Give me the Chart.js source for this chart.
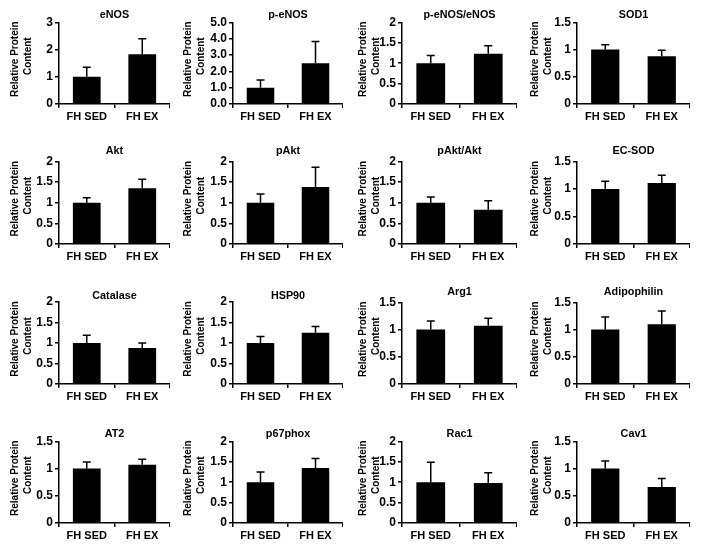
<!DOCTYPE html>
<html>
<head>
<meta charset="utf-8">
<script src="https://cdn.jsdelivr.net/npm/chart.js@4.4.0/dist/chart.umd.min.js"></script>
<style>
html, body { margin: 0; padding: 0; background: #fff; }
#wrap { position: relative; width: 701px; height: 550px; overflow: hidden; }
#wrap canvas { position: absolute; }
</style>
</head>
<body>
<div id="wrap"></div>
<script>
// data (SED mean is normalised to 1)
var categories = ['FH SED', 'FH EX'];
var panelTitles = ['eNOS', 'p-eNOS', 'p-eNOS/eNOS', 'SOD1',
                   'Akt', 'pAkt', 'pAkt/Akt', 'EC-SOD',
                   'Catalase', 'HSP90', 'Arg1', 'Adipophilin',
                   'AT2', 'p67phox', 'Rac1', 'Cav1'];
var sedValues = [1.0, 1.0, 1.0, 1.0, 1.0, 1.0, 1.0, 1.0, 1.0, 1.0, 1.0, 1.0, 1.0, 1.0, 1.0, 1.0];
var exValues  = [1.83, 2.5, 1.23, 0.88, 1.35, 1.38, 0.83, 1.11, 0.88, 1.25, 1.07, 1.1, 1.07, 1.35, 0.98, 0.66];
var sedErrors = [0.35, 0.47, 0.19, 0.09, 0.12, 0.21, 0.14, 0.14, 0.19, 0.16, 0.16, 0.23, 0.12, 0.25, 0.49, 0.14];
var exErrors  = [0.57, 1.33, 0.2, 0.11, 0.22, 0.48, 0.22, 0.14, 0.12, 0.15, 0.14, 0.24, 0.1, 0.23, 0.25, 0.16];
var yMax      = [3, 5, 2, 1.5, 2, 2, 2, 1.5, 2, 2, 1.5, 1.5, 1.5, 2, 2, 1.5];
var yStep     = [1, 1, 0.5, 0.5, 0.5, 0.5, 0.5, 0.5, 0.5, 0.5, 0.5, 0.5, 0.5, 0.5, 0.5, 0.5];
var yDecimals = [0, 1, 0, 0, 0, 0, 0, 0, 0, 0, 0, 0, 0, 0, 0, 0];
var yLabel = ['Relative Protein', 'Content'];

// grid layout (pixels)
var colAxisX = [59, 233, 402, 577];
var colRight = [170, 343, 517, 690];
var colTitleDist = [44, 45, 39, 42];
var rowTop = [22, 161, 302, 441];
var rowBottom = [104, 244, 384, 523];
var titleGap = [7, 7, 7, 7, 10, 10, 10, 10, 5.5, 5.5, 10, 10, 7, 7, 7, 7];

var AXIS_W = 56, X_H = 30, TITLE_PAD = 3, TITLE_SIZE = 10.8;
var Y_TITLE_FONT = 'bold 10px "Liberation Sans", Arial, sans-serif';
var Y_TITLE_LINE = 13.5, Y_TITLE_SHIFT = [-4, -7];

Chart.defaults.font.family = '"Liberation Sans", Arial, sans-serif';
Chart.defaults.color = '#000';

// upward error bar with a cap, like the Excel originals
var errorBars = {
    id: 'errorBars',
    afterDatasetsDraw: function (chart) {
        var ctx = chart.ctx;
        var yScale = chart.scales.y;
        var ds = chart.data.datasets[0];
        var meta = chart.getDatasetMeta(0);
        ctx.save();
        ctx.strokeStyle = '#000';
        ctx.lineWidth = 1.5;
        meta.data.forEach(function (bar, i) {
            var top = yScale.getPixelForValue(ds.data[i] + ds.errors[i]);
            ctx.beginPath();
            ctx.moveTo(bar.x, bar.y);
            ctx.lineTo(bar.x, top);
            ctx.moveTo(bar.x - 4, top);
            ctx.lineTo(bar.x + 4, top);
            ctx.stroke();
        });
        ctx.restore();
    }
};

// two-line rotated y title, sitting a little above the plot centre
var yTitle = {
    id: 'yTitle',
    afterDraw: function (chart, args, opts) {
        var ctx = chart.ctx;
        var area = chart.chartArea;
        var midY = (area.top + area.bottom) / 2;
        ctx.save();
        ctx.font = Y_TITLE_FONT;
        ctx.fillStyle = '#000';
        ctx.textAlign = 'center';
        ctx.textBaseline = 'middle';
        yLabel.forEach(function (line, k) {
            ctx.save();
            ctx.translate(area.left - opts.dist + k * Y_TITLE_LINE, midY + Y_TITLE_SHIFT[k]);
            ctx.rotate(-Math.PI / 2);
            ctx.fillText(line, 0, 0);
            ctx.restore();
        });
        ctx.restore();
    }
};

var wrap = document.getElementById('wrap');

panelTitles.forEach(function (title, i) {
    var row = Math.floor(i / 4), col = i % 4;
    var gapBottom = Math.max(0, titleGap[i] - TITLE_SIZE / 2);
    var left = colAxisX[col] - AXIS_W;
    var top = rowTop[row] - (TITLE_PAD + TITLE_SIZE + gapBottom);
    var width = colRight[col] - left;
    var height = rowBottom[row] - top + X_H;

    var canvas = document.createElement('canvas');
    canvas.width = width;
    canvas.height = Math.round(height);
    canvas.style.left = left + 'px';
    canvas.style.top = Math.round(top) + 'px';
    wrap.appendChild(canvas);

    var dec = yDecimals[i];

    new Chart(canvas.getContext('2d'), {
        type: 'bar',
        data: {
            labels: categories,
            datasets: [{
                data: [sedValues[i], exValues[i]],
                errors: [sedErrors[i], exErrors[i]],
                backgroundColor: '#000',
                borderWidth: 0,
                barPercentage: 0.5,
                categoryPercentage: 1.0
            }]
        },
        options: {
            responsive: false,
            animation: false,
            events: [],
            layout: { padding: 0 },
            plugins: {
                legend: { display: false },
                tooltip: { enabled: false },
                title: {
                    display: true,
                    text: title,
                    fullSize: false,
                    color: '#000',
                    font: { size: TITLE_SIZE, weight: 'bold', lineHeight: 1 },
                    padding: { top: TITLE_PAD, bottom: gapBottom }
                },
                yTitle: { dist: colTitleDist[col] }
            },
            scales: {
                x: {
                    offset: true,
                    grid: { offset: true, drawOnChartArea: false, drawTicks: true, tickLength: 4, color: '#000', lineWidth: 1.5 },
                    border: { display: true, color: '#000', width: 1.5 },
                    ticks: { font: { size: 11, weight: 'bold' }, color: '#000', padding: 2, maxRotation: 0, autoSkip: false },
                    afterFit: function (scale) { scale.height = X_H; }
                },
                y: {
                    min: 0,
                    max: yMax[i],
                    grid: { drawOnChartArea: false, drawTicks: true, tickLength: 4, color: '#000', lineWidth: 1.5 },
                    border: { display: true, color: '#000', width: 1.5 },
                    ticks: {
                        stepSize: yStep[i],
                        autoSkip: false,
                        font: { size: 12, weight: 'bold' },
                        color: '#000',
                        padding: 2,
                        callback: function (v) { return dec ? v.toFixed(1) : String(v); }
                    },
                    afterFit: function (scale) { scale.width = AXIS_W; }
                }
            }
        },
        plugins: [errorBars, yTitle]
    });
});
</script>
</body>
</html>
